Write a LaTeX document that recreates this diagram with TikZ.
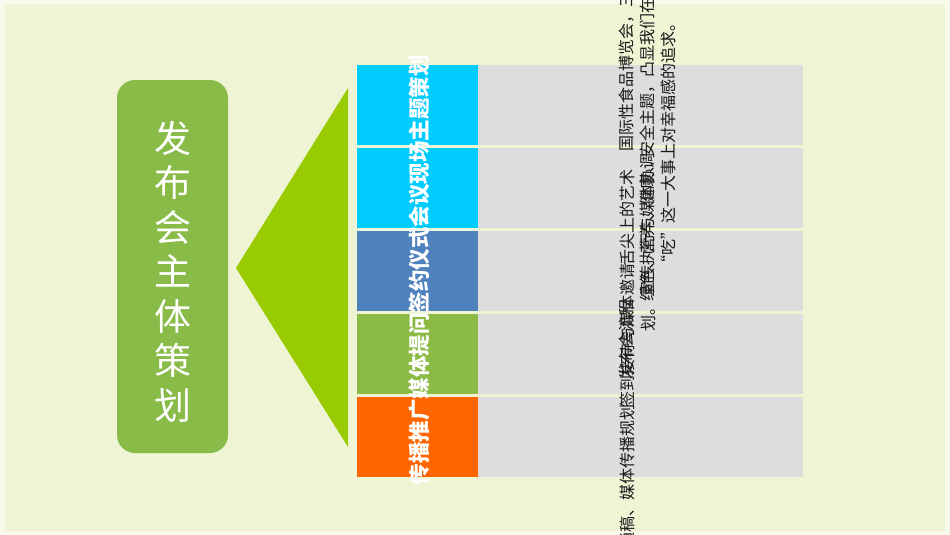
\documentclass[tikz,border=0pt]{standalone}
\usepackage{fontspec}
\newfontfamily\cjk{Noto Sans CJK SC}
\usetikzlibrary{shapes, positioning, calc}

\definecolor{bgpale}{HTML}{EFF4D5}
\definecolor{bgedge}{HTML}{F8FAEC}
\definecolor{titlegreen}{HTML}{88BB47}
\definecolor{wedgegreen}{HTML}{99CC00}
\definecolor{rowcyan}{HTML}{00CCFF}
\definecolor{rowblue}{HTML}{4F81BD}
\definecolor{rowgreen}{HTML}{8BBB45}
\definecolor{roworange}{HTML}{FF6600}
\definecolor{rowgrey}{HTML}{DDDDDD}

\begin{document}
\begin{tikzpicture}[x=1pt, y=-1pt]
  \newcommand\rowgap{3pt}
  \newcommand\desccol{627}

  \tikzset{tagbox/.style={minimum width=121pt, minimum height=80pt, inner sep=0pt, outer sep=0pt}}
  \tikzset{descbox/.style={fill=rowgrey, minimum width=325pt, minimum height=80pt, inner sep=0pt, outer sep=0pt}}
  \tikzset{taglbl/.style={rotate=90, text=white, inner sep=0pt, font=\cjk\bfseries\fontsize{21.5}{21.5}\selectfont}}
  \tikzset{desctxt/.style={rotate=90, anchor=west, inner sep=0pt, text=black!90, font=\cjk\fontsize{16}{16}\selectfont}}

  % background
  \fill[bgedge] (0,0) rectangle (950,535);
  \fill[bgpale] (5,4) rectangle (945,531);
  \useasboundingbox (0,0) rectangle (950,535);
  \clip (0,0) rectangle (950,535);

  % title
  \node[fill=titlegreen, rounded corners=18pt, minimum width=111pt, minimum height=373pt] (title) at (172.5,266.5) {};
  \node[text=white, align=center, inner sep=0pt, font=\cjk\fontsize{37}{44.5}\selectfont] (title-txt) at ($(title.center)+(0,5)$)
    {发\\布\\会\\主\\体\\策\\划};

  % wedge
  \coordinate (tip) at (236,268);
  \coordinate (wtop) at (348,88);
  \coordinate (wbot) at (348,447);
  \fill[wedgegreen] (tip) -- (wtop) -- (wbot) -- cycle;

  % rows
  \node[tagbox, fill=rowcyan, anchor=north west] (tag-1) at (357,65) {};
  \foreach \clr/\id [count=\previd from 1] in {rowcyan/2, rowblue/3, rowgreen/4, roworange/5}{
    \node[tagbox, fill=\clr, below=\rowgap of tag-\previd] (tag-\id) {};
  }
  \foreach \id in {1,...,5}{
    \node[descbox, right=0pt of tag-\id] (desc-\id) {};
  }

  % row labels
  \foreach \lbl [count=\i from 0] in {主题策划, 会议现场, 签约仪式, 媒体提问, 传播推广}{
    \node[taglbl] (lbl-\i) at (419,{98+86*\i}) {\lbl};
  }

  % descriptions
  \node[desctxt] (d-a) at (\desccol,549) {通稿、媒体传播规划};
  \node[desctxt] (d-b) at (\desccol,408) {签到接待与媒体邀请};
  \node[desctxt] (d-c) at (\desccol-1,380) {发布会流程};
  \node[desctxt] (d-d) at (\desccol,266) {舌尖上的艺术};
  \node[desctxt] (d-e) at (\desccol,152) {国际性食品博览会，三};
  \node[desctxt] (d-f) at (648,332) {划。};
  \node[desctxt] (d-g) at (648,302) {绿色、营养、健康、安全主题，凸显我们在};
  \node[desctxt] (d-h) at (647,298) {宣传执行与媒体协调};
  \node[desctxt] (d-i) at (668,272) {“吃”这一大事上对幸福感的追求。};
\end{tikzpicture}
\end{document}
